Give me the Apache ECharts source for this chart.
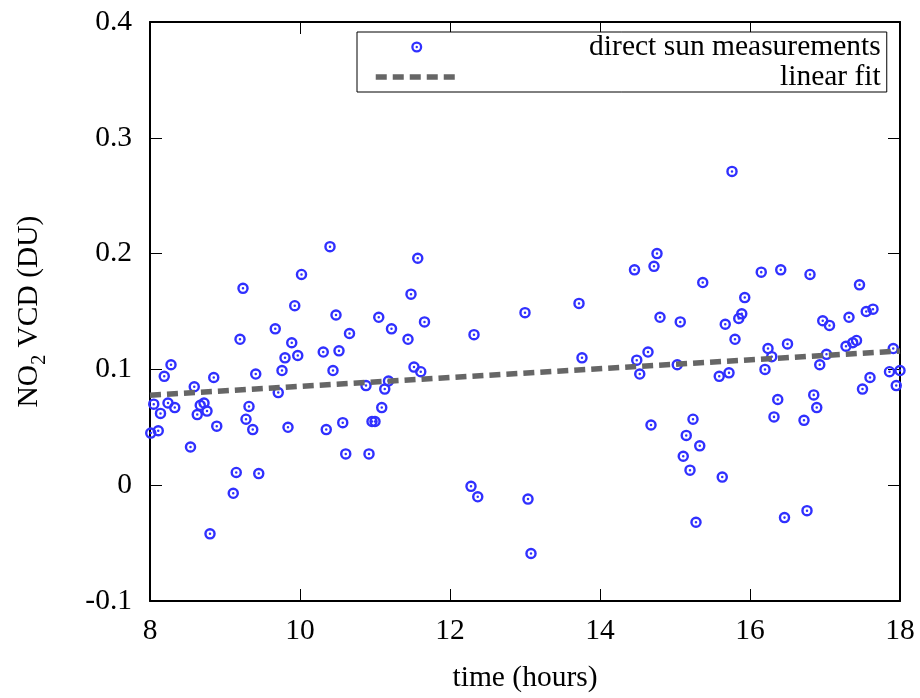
<!DOCTYPE html>
<html>
<head>
<meta charset="utf-8">
<script src="https://cdn.jsdelivr.net/npm/echarts@6/dist/echarts.min.js"></script>
<style>html,body{margin:0;padding:0;background:#fff;}#c{width:920px;height:698px;}</style>
</head>
<body>
<div id="c"></div>
<script>
const timeHours = [8.01,8.05,8.11,8.14,8.19,8.24,8.28,8.33,8.54,8.59,
  8.63,8.67,8.72,8.76,8.80,8.85,8.89,9.11,9.15,9.20,
  9.24,9.28,9.32,9.37,9.41,9.45,9.67,9.71,9.76,9.80,
  9.84,9.89,9.93,9.97,10.02,10.31,10.35,10.40,10.44,10.48,
  10.52,10.57,10.61,10.66,10.88,10.92,10.96,11.00,11.05,11.09,
  11.13,11.18,11.22,11.44,11.48,11.52,11.57,11.61,11.66,12.28,
  12.32,12.37,13.00,13.04,13.08,13.72,13.76,14.46,14.49,14.53,
  14.64,14.68,14.72,14.76,14.80,15.03,15.07,15.11,15.15,15.20,
  15.24,15.28,15.33,15.37,15.59,15.63,15.67,15.72,15.76,15.80,
  15.85,15.89,15.93,16.15,16.20,16.24,16.29,16.32,16.37,16.41,
  16.46,16.50,16.72,16.76,16.80,16.85,16.89,16.93,16.97,17.02,
  17.06,17.28,17.32,17.37,17.42,17.46,17.50,17.55,17.60,17.64,
  17.86,17.91,17.95,18.00];
const no2Vcd = [0.045,0.070,0.047,0.062,0.094,0.071,0.104,0.067,0.033,0.085,
  0.061,0.069,0.071,0.064,-0.042,0.093,0.051,-0.007,0.011,0.126,
  0.170,0.057,0.068,0.048,0.096,0.010,0.135,0.080,0.099,0.110,
  0.050,0.123,0.155,0.112,0.182,0.115,0.048,0.206,0.099,0.147,
  0.116,0.054,0.027,0.131,0.086,0.027,0.055,0.055,0.145,0.067,
  0.083,0.090,0.135,0.126,0.165,0.102,0.196,0.098,0.141,-0.001,
  0.130,-0.010,0.149,-0.012,-0.059,0.157,0.110,0.186,0.108,0.096,
  0.115,0.052,0.189,0.200,0.145,0.104,0.141,0.025,0.043,0.013,
  0.057,-0.032,0.034,0.175,0.094,0.007,0.139,0.097,0.271,0.126,
  0.144,0.148,0.162,0.184,0.100,0.118,0.111,0.059,0.074,0.186,
  -0.028,0.122,0.056,-0.022,0.182,0.078,0.067,0.104,0.142,0.113,
  0.138,0.120,0.145,0.123,0.125,0.173,0.083,0.150,0.093,0.152,
  0.098,0.118,0.086,0.099];
const fitX = [8, 18];
const fitY = [0.0777, 0.1159];
const xTicks = [8, 10, 12, 14, 16, 18];
const yTickLabels = ['-0.1', '0', '0.1', '0.2', '0.3', '0.4'];
const seriesNames = ['direct sun measurements', 'linear fit'];

const FONT = 'Liberation Serif';
const FS = 29.5;
const BLUE = '#3030ff';
const GRAY = '#666666';
const ringSymbol = 'path://M0,-5.5A5.5,5.5 0 1,1 0,5.5A5.5,5.5 0 1,1 0,-5.5Z M0,-3.2A3.2,3.2 0 1,0 0,3.2A3.2,3.2 0 1,0 0,-3.2Z M0,-1.2A1.2,1.2 0 1,1 0,1.2A1.2,1.2 0 1,1 0,-1.2Z';

const chart = echarts.init(document.getElementById('c'), null, {renderer: 'canvas'});
const yFmt = v => {
  const idx = Math.round((v + 0.1) / 0.1);
  return yTickLabels[idx] !== undefined ? yTickLabels[idx] : '';
};
const axisCommon = () => ({
  axisLine: {show: true, onZero: false, lineStyle: {color: '#000', width: 2}},
  axisTick: {show: true, inside: true, length: 12, lineStyle: {color: '#000', width: 1}},
  splitLine: {show: false}
});
chart.setOption({
  animation: false,
  backgroundColor: '#fff',
  textStyle: {fontFamily: FONT},
  grid: {left: 150, right: 20, top: 22, bottom: 95, containLabel: false},
  legend: {
    orient: 'vertical',
    left: 357, top: 32,
    padding: [0, 6, 0, 16],
    itemGap: 0,
    itemWidth: 82, itemHeight: 11,
    borderColor: '#000', borderWidth: 1,
    backgroundColor: '#fff',
    data: [
      {name: seriesNames[0]},
      {name: seriesNames[1], itemStyle: {opacity: 0, color: GRAY, borderWidth: 0},
       lineStyle: {color: GRAY, width: 5.5, type: [11, 6], opacity: 1}}
    ],
    formatter: n => '{r|' + n + '}',
    textStyle: {
      fontFamily: FONT, fontSize: FS, color: '#000', lineHeight: 28,
      rich: {r: {fontFamily: FONT, fontSize: FS, color: '#000', width: 418, align: 'right', lineHeight: 28}}
    }
  },
  xAxis: [
    Object.assign({
      type: 'value', min: 8, max: 18, interval: 2, position: 'bottom',
      name: 'time (hours)', nameLocation: 'middle', nameGap: 62,
      nameTextStyle: {fontFamily: FONT, fontSize: FS, color: '#000'},
      axisLabel: {fontFamily: FONT, fontSize: FS, color: '#000', margin: 15,
        formatter: v => xTicks.includes(v) ? String(v) : ''}
    }, axisCommon()),
    Object.assign({
      type: 'value', min: 8, max: 18, interval: 2, position: 'top',
      axisLabel: {show: false}
    }, axisCommon())
  ],
  yAxis: [
    Object.assign({
      type: 'value', min: -0.1, max: 0.4, interval: 0.1, position: 'left',
      name: '{a|NO}{b|2}{a| VCD (DU)}', nameLocation: 'middle', nameGap: 106, nameRotate: 90,
      nameTextStyle: {fontFamily: FONT, fontSize: FS, color: '#000',
        rich: {
          a: {fontFamily: FONT, fontSize: FS, color: '#000', lineHeight: 34, verticalAlign: 'bottom'},
          b: {fontFamily: FONT, fontSize: 20, color: '#000', lineHeight: 20, verticalAlign: 'bottom', padding: [0, 0, -6, 0]}
        }},
      axisLabel: {fontFamily: FONT, fontSize: FS, color: '#000', margin: 18, formatter: yFmt}
    }, axisCommon()),
    Object.assign({
      type: 'value', min: -0.1, max: 0.4, interval: 0.1, position: 'right',
      axisLabel: {show: false}
    }, axisCommon())
  ],
  series: [
    {
      name: seriesNames[0], type: 'scatter',
      xAxisIndex: 0, yAxisIndex: 0,
      symbol: ringSymbol, symbolSize: 11.5, symbolKeepAspect: true,
      itemStyle: {color: BLUE, opacity: 1},
      data: timeHours.map((t, i) => [t, no2Vcd[i]]),
      z: 2
    },
    {
      name: seriesNames[1], type: 'line',
      xAxisIndex: 0, yAxisIndex: 0,
      symbol: 'none', showSymbol: false,
      lineStyle: {color: GRAY, width: 5.5, type: [11, 6]},
      itemStyle: {color: GRAY},
      data: fitX.map((x, i) => [x, fitY[i]]),
      z: 3
    }
  ]
});
</script>
</body>
</html>
